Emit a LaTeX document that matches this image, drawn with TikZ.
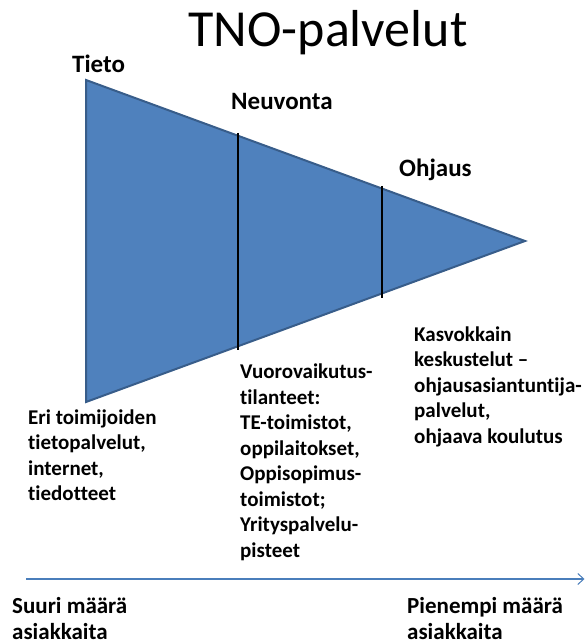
\documentclass[tikz,border=0pt]{standalone}
\usepackage{fontspec}
\setmainfont[Ligatures={NoCommon}]{Carlito}
\usetikzlibrary{arrows.meta}
\definecolor{tfill}{HTML}{4F81BD}
\definecolor{tline}{HTML}{385D8A}
\definecolor{aline}{HTML}{4A7EBB}
\tikzset{
  head/.style={font=\fontsize{25}{30}\selectfont\bfseries, inner sep=0pt, anchor=base west},
  body/.style={font=\fontsize{21}{25.5}\selectfont\bfseries, inner sep=0pt, anchor=north west, align=left},
  foot/.style={font=\fontsize{23}{26}\selectfont\bfseries, inner sep=0pt, anchor=north west, align=left},
  divider/.style={draw=black, line width=1.2pt},
}
\begin{document}
\begin{tikzpicture}[x=1pt,y=-1pt]
\useasboundingbox (0,0) rectangle (585,644);
% triangle
\coordinate (tl) at (86,80);
\coordinate (bl) at (86,402);
\coordinate (tip) at (525,241);
\draw[fill=tfill, draw=tline, line width=2pt, line join=miter] (tl) -- (tip) -- (bl) -- cycle;
% dividers
\coordinate (d1t) at (238,133);
\coordinate (d1b) at (238,350);
\coordinate (d2t) at (382,186);
\coordinate (d2b) at (382,298);
\draw[divider] (d1t) -- (d1b);
\draw[divider] (d2t) -- (d2b);
% title
\node[font=\fontsize{52}{60}\selectfont, inner sep=0pt, anchor=base] (title) at (328,47) {TNO-palvelut};
% headings
\node[head] (tieto) at (72,73) {Tieto};
\node[head] (neuvonta) at (231,110) {Neuvonta};
\node[head] (ohjaus) at (399,176.5) {Ohjaus};
% body texts
\node[body] (eri) at (28,409.5) {Eri toimijoiden\\tietopalvelut,\\internet,\\tiedotteet};
\node[body] (vuoro) at (240,364) {Vuorovaikutus-\\tilanteet:\\TE-toimistot,\\oppilaitokset,\\Oppisopimus-\\toimistot;\\Yrityspalvelu-\\pisteet};
\node[body] (kasvo) at (414,326.5) {Kasvokkain\\keskustelut –\\ohjausasiantuntija-\\palvelut,\\ohjaava koulutus};
% bottom arrow
\coordinate (as) at (26,579);
\coordinate (ae) at (584.5,579);
\draw[aline, line width=1.2pt, -{Straight Barb[length=6pt,width=11pt,line width=1pt]}] (as) -- (ae);
\node[foot] (suuri) at (12,597) {Suuri määrä\\asiakkaita};
\node[foot] (pien) at (407,597) {Pienempi määrä\\asiakkaita};
\end{tikzpicture}
\end{document}
